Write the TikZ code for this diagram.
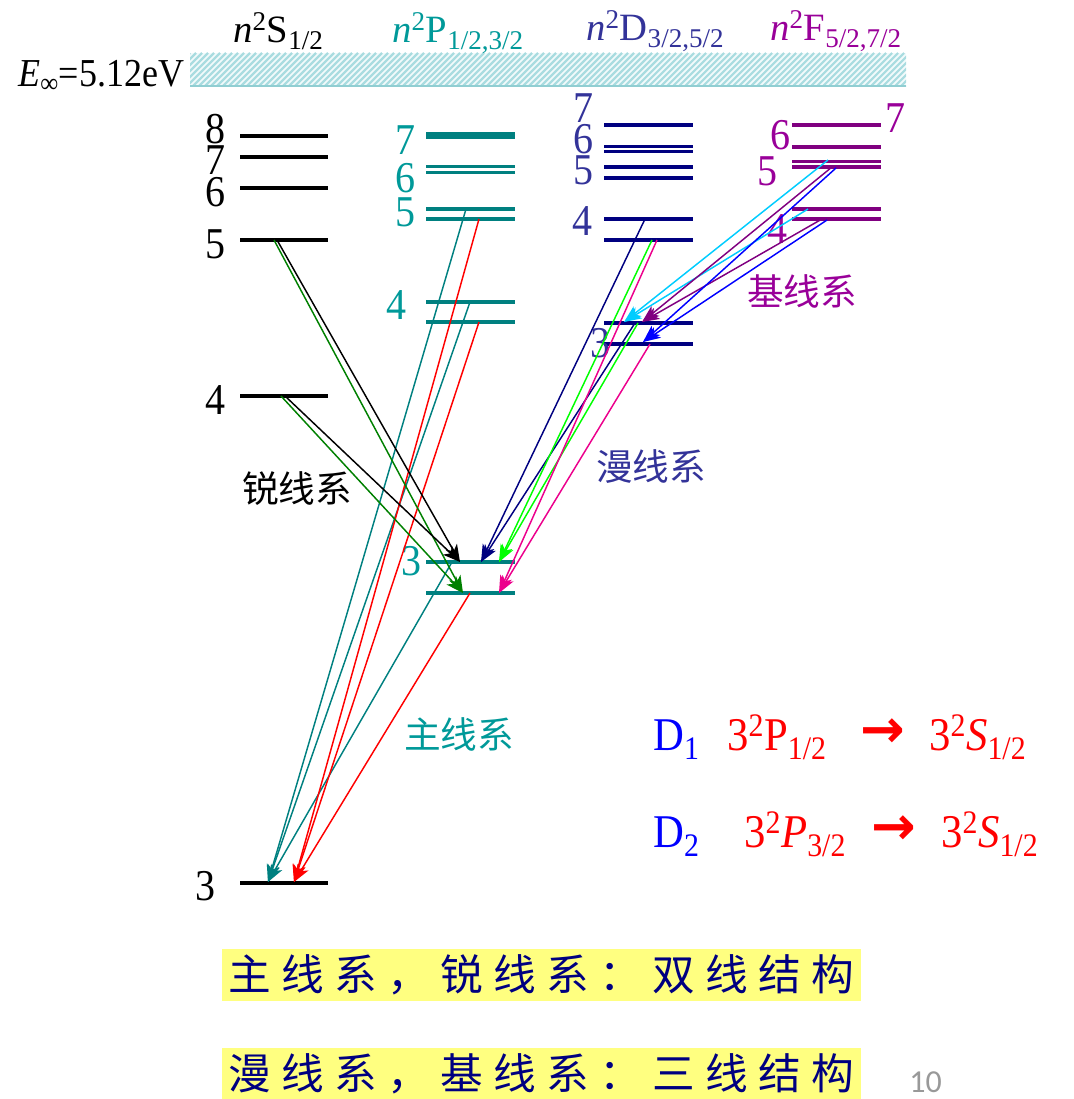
\documentclass[tikz,border=0pt]{standalone}
\usepackage{fontspec}
\usepackage{graphicx}
\setmainfont{Liberation Serif}
\newfontfamily\cjk{Noto Sans CJK SC}
\newfontfamily\calib{Carlito}
\newfontfamily\dvs{DejaVu Sans}
\usetikzlibrary{arrows.meta}
\definecolor{tealL}{HTML}{008080}
\definecolor{tealT}{HTML}{009999}
\definecolor{navyL}{HTML}{000080}
\definecolor{navyT}{HTML}{333399}
\definecolor{purL}{HTML}{800080}
\definecolor{purT}{HTML}{990099}
\definecolor{cyanA}{HTML}{00CCFF}
\definecolor{greenD}{HTML}{008000}
\definecolor{greenB}{HTML}{00FF00}
\definecolor{hatchC}{HTML}{A9DCE0}
\definecolor{hatchB}{HTML}{F2FAFB}
\definecolor{yelB}{HTML}{FFFF80}
\definecolor{grayT}{HTML}{999999}
\newcommand\vs[1]{\scalebox{1}[1.1]{#1}}
\newcommand\ch[1]{\makebox[39.75pt]{#1}}
\begin{document}
\begin{tikzpicture}[x=0.75pt,y=-0.75pt,
  lvl/.style={line width=3pt},
  lvt/.style={line width=2.6pt},
  tr/.style={line width=1.1pt,-{Stealth[length=13pt,width=9.5pt,inset=3.5pt]}},
  lab/.style={inner sep=0pt,font=\fontsize{30}{31}\selectfont},
  hdr/.style={inner sep=0pt,anchor=base west,font=\fontsize{29}{31}\selectfont},
  big/.style={inner sep=0pt,anchor=base west,font=\fontsize{32}{34}\selectfont},
  cjklab/.style={inner sep=0pt,font=\cjk\fontsize{27.5}{30}\selectfont},
  ybox/.style={fill=yelB,inner sep=0pt,minimum width=479.25pt,minimum height=38.5pt,text=navyL,font=\cjk\fontsize{32}{34}\selectfont}]
\useasboundingbox (0,0) rectangle (1074,1099);

% ionisation limit band
\fill[hatchB] (190,53) rectangle (906,87);
\begin{scope}
  \clip (190,53) rectangle (906,87);
  \foreach \i in {150,156,...,906} \draw[hatchC,line width=1.6pt] (\i,87) -- ++(34,-34);
\end{scope}
\draw[hatchC!85!tealL,line width=1.5pt] (190,86) -- (906,86);
\node[inner sep=0pt,anchor=base west,font=\fontsize{27}{30}\selectfont] (einf) at (18,87)
  {\vs{\itshape E\upshape\textsubscript{∞}=5.12eV}};

% headers
\node[hdr] (hS) at (233,43) {{\itshape n}\textsuperscript{2}S\textsubscript{1/2}};
\node[hdr,text=tealT] (hP) at (392,43) {{\itshape n}\textsuperscript{2}P\textsubscript{1/2,3/2}};
\node[hdr,text=navyT] (hD) at (586,41) {{\itshape n}\textsuperscript{2}D\textsubscript{3/2,5/2}};
\node[hdr,text=purT] (hF) at (770,41) {{\itshape n}\textsuperscript{2}F\textsubscript{5/2,7/2}};

% S levels
\foreach \y in {136,157,188,240,396,883} \draw[lvl,black] (240,\y) -- (328,\y);
% P levels
\foreach \y in {134,137,209,219,302,322,562,593} \draw[lvl,tealL] (426,\y) -- (515,\y);
\foreach \y in {166.5,172.5} \draw[lvt,tealL] (426,\y) -- (515,\y);
% D levels
\foreach \y in {125,167,178,219,240,323,344} \draw[lvl,navyL] (604,\y) -- (693,\y);
\foreach \y in {146.5,151.5} \draw[lvt,navyL] (604,\y) -- (693,\y);
% F levels
\foreach \y in {125,147,209,219} \draw[lvl,purL] (792,\y) -- (881,\y);
\foreach \y in {161.5,167} \draw[lvt,purL] (792,\y) -- (881,\y);

% level labels
\node[lab] (lS8) at (215,129) {\vs{8}};
\node[lab] (lS7) at (215,160) {\vs{7}};
\node[lab] (lS6) at (215,192) {\vs{6}};
\node[lab] (lS5) at (215,244) {\vs{5}};
\node[lab] (lS4) at (215,400) {\vs{4}};
\node[lab] (lS3) at (205,886) {\vs{3}};
\node[lab,text=tealT] (lP7) at (405,140) {\vs{7}};
\node[lab,text=tealT] (lP6) at (405,178) {\vs{6}};
\node[lab,text=tealT] (lP5) at (405,212) {\vs{5}};
\node[lab,text=tealT] (lP4) at (396,305) {\vs{4}};
\node[lab,text=tealT] (lP3) at (411,561) {\vs{3}};
\node[lab,text=navyT] (lD7) at (583,108) {\vs{7}};
\node[lab,text=navyT] (lD6) at (583,139) {\vs{6}};
\node[lab,text=navyT] (lD5) at (583,170) {\vs{5}};
\node[lab,text=navyT] (lD4) at (582,221) {\vs{4}};
\node[lab,text=navyT] (lD3) at (600,343) {\vs{3}};
\node[lab,text=purT] (lF7) at (895,118) {\vs{7}};
\node[lab,text=purT] (lF6) at (780,135) {\vs{6}};
\node[lab,text=purT] (lF5) at (767,171) {\vs{5}};
\node[lab,text=purT] (lF4) at (777,229) {\vs{4}};

% series names
\node[cjklab] (sharp) at (297,489) {锐线系};
\node[cjklab,text=navyT] (diff) at (651,467) {漫线系};
\node[cjklab,text=tealT] (princ) at (459,734) {主线系};
\node[cjklab,text=purT] (fund) at (802,291) {基线系};

% arrow end points
\coordinate (s5b) at (277,240); \coordinate (s5g) at (274,240);
\coordinate (s4b) at (285,396); \coordinate (s4g) at (281,396);
\coordinate (s3t) at (268,882); \coordinate (s3r) at (294,882);
\coordinate (p5u) at (466,209); \coordinate (p5l) at (479,219);
\coordinate (p4u) at (470,302); \coordinate (p4l) at (479,322);
\coordinate (p3us) at (452,562); \coordinate (p3ls) at (470,593);
\coordinate (p3uk) at (460,562); \coordinate (p3lk) at (463,593);
\coordinate (p3un) at (481,562); \coordinate (p3ug) at (499,562); \coordinate (p3lm) at (499,593);
\coordinate (d4u) at (645,219); \coordinate (d4g) at (652,240); \coordinate (d4m) at (657,240);
\coordinate (d3un) at (635,323); \coordinate (d3ug) at (638,323); \coordinate (d3lm) at (650,344);
\coordinate (d3c) at (624,322); \coordinate (d3p) at (642,322); \coordinate (d3b) at (643,342);
\coordinate (f5c) at (828,160); \coordinate (f5p) at (832,167); \coordinate (f5b) at (836,168);
\coordinate (f4c) at (808,209); \coordinate (f4p) at (822,219); \coordinate (f4b) at (827,220);

% principal series
\draw[tr,tealL] (p5u) -- (s3t);
\draw[tr,tealL] (p4u) -- (s3t);
\draw[tr,tealL] (p3us) -- (s3t);
\draw[tr,red] (p5l) -- (s3r);
\draw[tr,red] (p4l) -- (s3r);
\draw[tr,red] (p3ls) -- (s3r);
% sharp series
\draw[tr,greenD] (s5g) -- (p3lk);
\draw[tr,greenD] (s4g) -- (p3lk);
\draw[tr,black] (s5b) -- (p3uk);
\draw[tr,black] (s4b) -- (p3uk);
% diffuse series
\draw[tr,navyL] (d4u) -- (p3un);
\draw[tr,navyL] (d3un) -- (p3un);
\draw[tr,greenB] (d4g) -- (p3ug);
\draw[tr,greenB] (d3ug) -- (p3ug);
\draw[tr,magenta] (d4m) -- (p3lm);
\draw[tr,magenta] (d3lm) -- (p3lm);
% fundamental series
\draw[tr,cyanA] (f5c) -- (d3c);
\draw[tr,cyanA] (f4c) -- (d3c);
\draw[tr,purL] (f5p) -- (d3p);
\draw[tr,purL] (f4p) -- (d3p);
\draw[tr,blue] (f5b) -- (d3b);
\draw[tr,blue] (f4b) -- (d3b);

% D lines
\node[big,text=blue] (d1) at (653,750) {\vs{D\textsubscript{1}}};
\node[big,text=red] (d1a) at (727,750) {\vs{3\textsuperscript{2}P\textsubscript{1/2}}};
\node[big,text=red] (d1r) at (860,747) {\dvs\bfseries\fontsize{40}{42}\selectfont →};
\node[big,text=red] (d1b) at (929,750) {\vs{3\textsuperscript{2}{\itshape S}\textsubscript{1/2}}};
\node[big,text=blue] (d2) at (653,847) {\vs{D\textsubscript{2}}};
\node[big,text=red] (d2a) at (744,847) {\vs{3\textsuperscript{2}{\itshape P}\textsubscript{3/2}}};
\node[big,text=red] (d2r) at (871,844) {\dvs\bfseries\fontsize{40}{42}\selectfont →};
\node[big,text=red] (d2b) at (941,847) {\vs{3\textsuperscript{2}{\itshape S}\textsubscript{1/2}}};

% bottom boxes
\node[ybox] (b1) at (541.5,975) {\ch{主}\ch{线}\ch{系}\ch{，}\ch{锐}\ch{线}\ch{系}\ch{：}\ch{双}\ch{线}\ch{结}\ch{构}};
\node[ybox] (b2) at (541.5,1073.5) {\ch{漫}\ch{线}\ch{系}\ch{，}\ch{基}\ch{线}\ch{系}\ch{：}\ch{三}\ch{线}\ch{结}\ch{构}};
\node[inner sep=0pt,anchor=base west,text=grayT,font=\calib\fontsize{24}{26}\selectfont] (pg) at (909,1092) {10};
\end{tikzpicture}
\end{document}
